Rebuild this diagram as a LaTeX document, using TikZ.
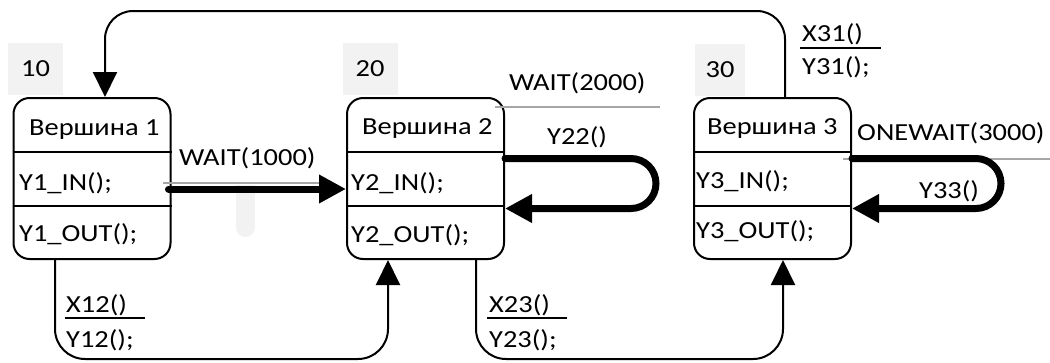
\documentclass[tikz,border=0pt]{standalone}
\usepackage{fontspec}
\setmainfont{Carlito}[FakeStretch=1.16]
\usetikzlibrary{arrows.meta,calc}
\definecolor{boxgray}{HTML}{F2F2F2}
\definecolor{linegray}{HTML}{A6A6A6}
\newcommand{\diafont}{\fontsize{24.5pt}{29pt}\selectfont}
\tikzset{
  lbl/.style={font=\diafont, inner sep=0pt, anchor=base west},
  statebox/.style={draw, line width=2pt, rounded corners=16pt,
    minimum width=157pt, minimum height=161pt, inner sep=0pt},
  numbox/.style={fill=boxgray, minimum width=55pt, minimum height=52pt,
    inner sep=0pt, font=\diafont},
  divider/.style={line width=2pt},
  conn/.style={line width=2pt, -{Triangle[length=25pt,width=24pt]}},
  loopconn/.style={line width=7pt, line cap=round,
    -{Triangle[length=27pt,width=27pt]}},
  uline/.style={draw=linegray, line width=2pt},
  fracline/.style={line width=2pt},
}
\begin{document}
\begin{tikzpicture}[x=1pt,y=-1pt]
\useasboundingbox (0,0) rectangle (1050,362);

% state numbers
\node[numbox] (n10) at (35.5,69) {10};
\node[numbox] (n20) at (370,69) {20};
\node[numbox, minimum width=50pt] (n30) at (720,70) {30};

% faint bar below the first transition
\fill[boxgray] (236,185) rectangle (255,227.5);
\fill[boxgray] (245.5,227.5) circle[radius=9.5];

% states
\foreach \n/\cx in {1/92,2/425.5,3/772.5}{
  \node[statebox] (s\n) at (\cx,178.5) {};
  \draw[divider] (s\n.west |- 0,152) -- (s\n.east |- 0,152);
  \draw[divider] (s\n.west |- 0,206) -- (s\n.east |- 0,206);
}

% state texts
\node[lbl] (t1) at (29,135) {Вершина 1};
\node[lbl] (in1) at (19,190) {Y1\_IN();};
\node[lbl] (out1) at (19,241) {Y1\_OUT();};
\node[lbl] (t2) at (362,134) {Вершина 2};
\node[lbl] (in2) at (351,190) {Y2\_IN();};
\node[lbl] (out2) at (351,242) {Y2\_OUT();};
\node[lbl] (t3) at (707,134) {Вершина 3};
\node[lbl] (in3) at (696,188) {Y3\_IN();};
\node[lbl] (out3) at (696,238) {Y3\_OUT();};

% WAIT(1000): 1 -> 2
\draw[uline] (163,183) -- (322,183);
\node[lbl] (w1) at (179,165) {WAIT(1000)};
\draw[loopconn] ($(s1.east)+(-3,10.5)$) -- (s2.west |- 0,189);

% WAIT(2000): loop on 2
\node[lbl] (w2) at (509,90) {WAIT(2000)};
\draw[uline] (495,107) -- (660,107);
\node[lbl] (y22) at (547,144) {Y22()};
\draw[loopconn, rounded corners=25pt] (s2.east |- 0,158.5) -- (656,158.5)
  -- (656,208.5) -- (s2.east |- 0,208.5);

% ONEWAIT(3000): loop on 3
\node[lbl] (w3) at (857,140) {ONEWAIT(3000)};
\draw[uline] (843,159) -- (1050,159);
\node[lbl] (y33) at (919,198) {Y33()};
\draw[loopconn, rounded corners=25pt] (s3.east |- 0,158.5) -- (1001,158.5)
  -- (1001,208.5) -- (s3.east |- 0,208.5);

% X12 / Y12: 1 -> 2
\draw[conn, rounded corners=30pt] (55,0 |- s1.south) -- (55,359) -- (388,359)
  -- (388,0 |- s2.south);
\node[lbl] (x12) at (66,312) {X12()};
\draw[fracline] (65,318) -- (145,318);
\node[lbl] (y12) at (66,347) {Y12();};

% X23 / Y23: 2 -> 3
\draw[conn, rounded corners=30pt] (476,0 |- s2.south) -- (476,359) -- (783,359)
  -- (783,0 |- s3.south);
\node[lbl] (x23) at (489,312) {X23()};
\draw[fracline] (487,318) -- (567,318);
\node[lbl] (y23) at (489,347) {Y23();};

% X31 / Y31: 3 -> 1
\draw[conn, rounded corners=28pt] (785,0 |- s3.north) -- (785,11) -- (105,11)
  -- (105,0 |- s1.north);
\node[lbl] (x31) at (802,41) {X31()};
\draw[fracline] (800,48) -- (881,48);
\node[lbl] (y31) at (802,74) {Y31();};
\end{tikzpicture}
\end{document}
